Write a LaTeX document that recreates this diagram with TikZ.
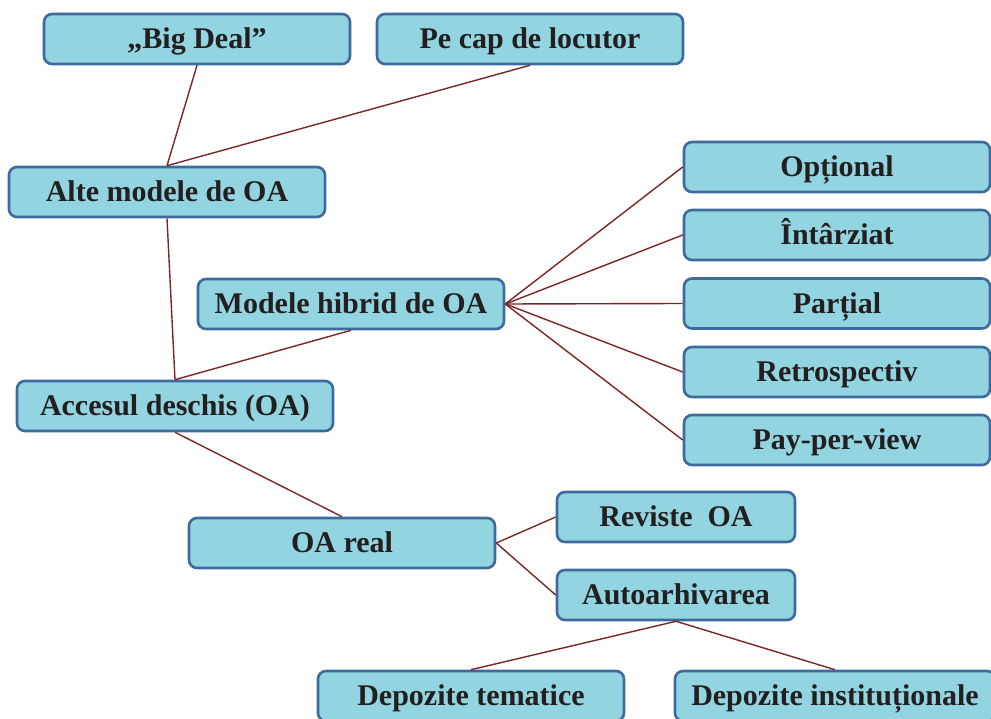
\documentclass[tikz,border=0pt]{standalone}
\usepackage{fontspec}
\setmainfont{Liberation Serif}
\definecolor{boxfill}{HTML}{92D5E0}
\definecolor{boxline}{HTML}{3D6B9E}
\definecolor{linkred}{HTML}{7A2626}
\definecolor{ink}{HTML}{231F20}
\begin{document}
\begin{tikzpicture}[x=1pt,y=-1pt,
  box/.style={draw=boxline, fill=boxfill, line width=2.6pt, rounded corners=8pt,
    minimum height=50pt, minimum width=306pt, inner sep=0pt, text=ink,
    text height=19.8pt, text depth=0pt,
    font=\fontsize{30}{31}\selectfont\bfseries},
  link/.style={draw=linkred, line width=1.4pt}]
  \useasboundingbox (0,0) rectangle (991,719);
  \clip (0,0) rectangle (991,719);

  % left column
  \node[box] (bigdeal) at (197,39) {„Big Deal”};
  \node[box] (pecap) at (530,39) {Pe cap de locutor};
  \node[box, minimum width=316pt] (alte) at (167,192) {Alte modele de OA};
  \node[box] (hibrid) at (351,304) {Modele hibrid de OA};
  \node[box, minimum width=316pt] (acces) at (175,406) {Accesul deschis (OA)};
  \node[box] (real) at (342,543) {OA real};

  % hybrid variants
  \node[box] (optional) at (837,167) {Opțional};
  \node[box] (intarziat) at (837,235) {Întârziat};
  \node[box] (partial) at (837,303.5) {Parțial};
  \node[box] (retro) at (837,372) {Retrospectiv};
  \node[box] (ppv) at (837,440) {Pay-per-view};

  % real OA branches
  \node[box, minimum width=238pt] (reviste) at (676,517) {Reviste\ \ OA};
  \node[box, minimum width=238pt] (auto) at (676,595) {Autoarhivarea};
  \node[box] (tematice) at (471,696) {Depozite tematice};
  \node[box, minimum width=320pt] (instit) at (835,696) {Depozite instituționale};

  % connectors
  \draw[link] (bigdeal.south) -- (alte.north);
  \draw[link] (pecap.south) -- (alte.north);
  \draw[link] (alte.south) -- (acces.north);
  \draw[link] (hibrid.south) -- (acces.north);
  \foreach \t in {optional,intarziat,partial,retro,ppv}
    \draw[link] (hibrid.east) -- (\t.west);
  \draw[link] (acces.south) -- (real.north);
  \draw[link] (real.east) -- (reviste.west);
  \draw[link] (real.east) -- (auto.west);
  \draw[link] (auto.south) -- (tematice.north);
  \draw[link] (auto.south) -- (instit.north);
\end{tikzpicture}
\end{document}
